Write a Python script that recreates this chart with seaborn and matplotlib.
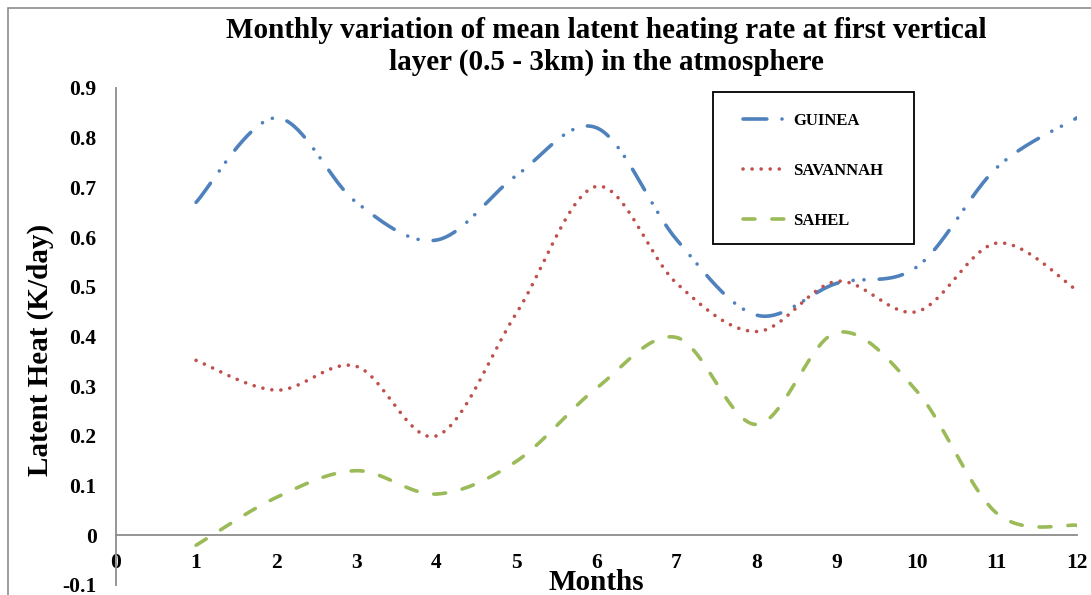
import numpy as np
import pandas as pd
import matplotlib
matplotlib.use("Agg")
import matplotlib.pyplot as plt
import seaborn as sns
from matplotlib.patches import Rectangle

months = [1, 2, 3, 4, 5, 6, 7, 8, 9, 10, 11, 12]
guinea = [0.67, 0.84, 0.67, 0.594, 0.724, 0.82, 0.595, 0.443, 0.507, 0.54, 0.74, 0.84]
savannah = [0.352, 0.292, 0.34, 0.20, 0.447, 0.702, 0.507, 0.41, 0.511, 0.45, 0.588, 0.493]
sahel = [-0.02, 0.076, 0.13, 0.083, 0.149, 0.296, 0.398, 0.223, 0.408, 0.29, 0.044, 0.02]
series_names = ["GUINEA", "SAVANNAH", "SAHEL"]
colors = ["#4F81BD", "#C0504D", "#9BBB59"]
xticks = list(range(0, 13))
yticks = [-0.1, 0, 0.1, 0.2, 0.3, 0.4, 0.5, 0.6, 0.7, 0.8, 0.9]
ytick_labels = ["-0.1", "0", "0.1", "0.2", "0.3", "0.4", "0.5", "0.6", "0.7", "0.8", "0.9"]


def smooth(x, y, n=40):
    """Excel-like smoothed line (uniform Catmull-Rom through the data points)."""
    x = np.asarray(x, float)
    y = np.asarray(y, float)
    px = np.concatenate([[x[0]], x, [x[-1]]])
    py = np.concatenate([[y[0]], y, [y[-1]]])
    xs, ys = [], []
    t = np.linspace(0, 1, n, endpoint=False)
    for i in range(1, len(px) - 2):
        p0, p1, p2, p3 = [np.array([px[j], py[j]]) for j in (i - 1, i, i + 1, i + 2)]
        c1 = p1 + (p2 - p0) / 6
        c2 = p2 - (p3 - p1) / 6
        b = ((1 - t) ** 3)[:, None] * p1 + (3 * (1 - t) ** 2 * t)[:, None] * c1 \
            + (3 * (1 - t) * t ** 2)[:, None] * c2 + (t ** 3)[:, None] * p2
        xs.append(b[:, 0]); ys.append(b[:, 1])
    xs.append([x[-1]]); ys.append([y[-1]])
    return np.concatenate(xs), np.concatenate(ys)


sns.set_theme(style="white")
plt.rcParams["font.family"] = ["Liberation Serif", "DejaVu Serif"]
plt.rcParams["font.weight"] = "bold"
plt.rcParams["text.color"] = "black"
plt.rcParams["axes.labelcolor"] = "black"
plt.rcParams["xtick.color"] = "black"
plt.rcParams["ytick.color"] = "black"

W, H = 1091, 595
fig = plt.figure(figsize=(W / 100, H / 100), dpi=100)
ax = fig.add_axes([116 / W, 1 - 585 / H, (1077 - 116) / W, (585 - 88) / H])

dash_styles = [(6.6, 4.2, 0.01, 3.0, 0.01, 4.2), (0.01, 2.5), (3.3, 4.7)]
for name, vals, col, ds in zip(series_names, [guinea, savannah, sahel], colors, dash_styles):
    sx, sy = smooth(months, vals)
    df = pd.DataFrame({"Month": sx, "Value": sy})
    sns.lineplot(data=df, x="Month", y="Value", ax=ax, color=col, lw=2.6,
                 label=name, sort=False, estimator=None)
    ln = ax.lines[-1]
    ln.set_dashes(ds)
    ln.set_dash_capstyle("round")
    ln.set_solid_capstyle("round")
if ax.get_legend() is not None:
    ax.get_legend().remove()

for s in ["top", "right"]:
    ax.spines[s].set_visible(False)
ax.spines["bottom"].set_position(("data", 0))
for s in ["left", "bottom"]:
    ax.spines[s].set_color("#8c8c8c")
    ax.spines[s].set_linewidth(1.3)

ax.set_xlim(0, 12)
ax.set_ylim(-0.1, 0.9)
ax.set_xticks(xticks)
ax.set_yticks(yticks)
ax.set_xticklabels([str(v) for v in xticks], fontsize=15.5, fontweight="bold")
ax.set_yticklabels(ytick_labels, fontsize=15.5, fontweight="bold")
ax.tick_params(axis="both", which="both", direction="out", length=5, width=1.3,
               color="#8c8c8c", labelcolor="black")
ax.tick_params(axis="x", pad=8)
ax.tick_params(axis="y", pad=9)
ax.set_xlabel("")
ax.set_ylabel("")
ax.grid(False)

fig.text(40 / W, 1 - 350 / H, "Latent Heat (K/day)", rotation=90, ha="center", va="center",
         fontsize=21, fontweight="bold")
fig.text(596 / W, 1 - 582 / H, "Months", ha="center", va="center", fontsize=21, fontweight="bold")
fig.text(606 / W, 1 - 30 / H, "Monthly variation of mean latent heating rate at first vertical",
         ha="center", va="center", fontsize=21, fontweight="bold")
fig.text(606 / W, 1 - 62 / H, "layer (0.5 - 3km) in the atmosphere",
         ha="center", va="center", fontsize=21, fontweight="bold")

handles = ax.lines[:3]
leg = fig.legend(handles, series_names, loc="upper left",
                 bbox_to_anchor=(743 / W, 1 - 113 / H), bbox_transform=fig.transFigure,
                 frameon=False, fontsize=12, labelspacing=2.05,
                 handlelength=2.7, handletextpad=0.3, borderpad=0, borderaxespad=0)
for t in leg.get_texts():
    t.set_fontweight("bold")

# legend box
fig.patches.append(Rectangle((713 / W, 1 - 244 / H), 201 / W, 152 / H, transform=fig.transFigure,
                             fill=False, edgecolor="black", lw=1.3))
# outer chart frame (top/left visible)
fig.patches.append(Rectangle((8 / W, -0.1), 1.2, 1 - 8 / H + 0.1, transform=fig.transFigure,
                             fill=False, edgecolor="#8c8c8c", lw=1.2))

fig.savefig("out.png", dpi=100)
